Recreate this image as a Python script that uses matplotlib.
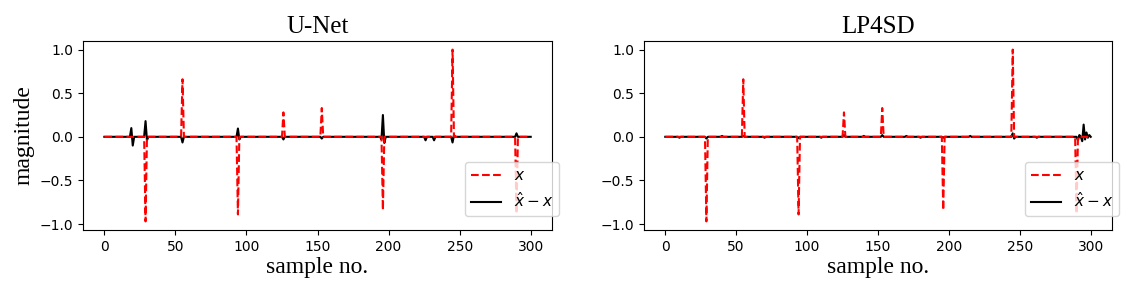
import numpy as np
import matplotlib
matplotlib.use("Agg")
import matplotlib.pyplot as plt

# ---- data ----
n_samples = 301
titles = ["U-Net", "LP4SD"]

# sparse signal x: spike positions and amplitudes
x_idx = [29, 55, 94, 126, 153, 196, 245, 290]
x_val = [-0.97, 0.66, -0.89, 0.28, 0.33, -0.84, 1.00, -0.88]

# U-Net reconstruction error (x_hat - x), non-zero samples
unet_err_idx = [19, 20, 29, 30, 55, 94, 95, 126, 153, 195, 196, 197,
                226, 232, 245, 246, 290]
unet_err_val = [0.10, -0.10, 0.18, -0.04, -0.065, 0.095, -0.03, -0.03, -0.02,
                -0.03, 0.25, -0.07, -0.04, -0.04, -0.065, 0.02, 0.04]

# LP4SD reconstruction error (x_hat - x), non-zero samples
lp_err_idx = [10, 29, 40, 55, 70, 94, 110, 126, 140, 153, 170, 180, 196, 215,
              245, 246, 262, 291, 292, 294, 295, 296, 297, 298, 299]
lp_err_val = [-0.01, -0.02, 0.01, 0.01, -0.01, -0.015, -0.01, 0.02, 0.01, 0.02,
              0.01, -0.01, -0.01, 0.01, 0.04, -0.02, -0.01, -0.04, 0.02, -0.05,
              0.14, -0.03, 0.05, -0.01, 0.02]

# ---- build series ----
samples = np.arange(n_samples)
x = np.zeros(n_samples)
x[x_idx] = x_val
err_unet = np.zeros(n_samples)
err_unet[unet_err_idx] = unet_err_val
err_lp = np.zeros(n_samples)
err_lp[lp_err_idx] = lp_err_val
errors = [err_unet, err_lp]

fig = plt.figure(figsize=(11.34, 3.0), dpi=100)
positions = [[0.0732, 0.2333, 0.4136, 0.63],
             [0.5679, 0.2333, 0.4127, 0.63]]
serif = ["Liberation Serif", "DejaVu Serif"]

for i, (pos, title, err) in enumerate(zip(positions, titles, errors)):
    ax = fig.add_axes(pos)
    l_err, = ax.plot(samples, err, color="black", lw=1.5, zorder=2)
    l_x, = ax.plot(samples, x, color="red", ls="--", lw=1.5, zorder=3)
    ax.set_title(title, fontsize=18, family=serif)
    ax.set_xlabel("sample no.", fontsize=17, family=serif, labelpad=2)
    if i == 0:
        ax.set_ylabel("magnitude", fontsize=17, family=serif)
    ax.set_xticks([0, 50, 100, 150, 200, 250, 300])
    ax.set_yticks([-1.0, -0.5, 0.0, 0.5, 1.0])
    ax.tick_params(labelsize=10)
    ax.legend([l_x, l_err], ["$x$", r"$\hat{x}-x$"], loc="lower right",
              bbox_to_anchor=(1.015, 0.074), borderaxespad=0, fontsize=11)

fig.savefig("out.png", dpi=100)
